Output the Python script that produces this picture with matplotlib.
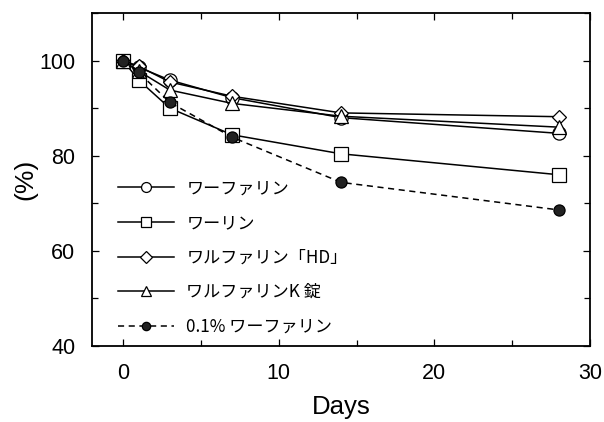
import matplotlib
matplotlib.use("Agg")
import matplotlib.pyplot as plt
from matplotlib.ticker import MultipleLocator

days = [0, 1, 3, 7, 14, 28]
names = ["ワーファリン", "ワーリン", "ワルファリン「HD」", "ワルファリンK 錠", "0.1% ワーファリン"]
warfarin = [100, 98.6, 95.9, 92.2, 88.0, 84.7]
warin = [100, 95.9, 90.0, 84.4, 80.4, 76.0]
warfarin_hd = [100, 98.8, 95.5, 92.5, 89.0, 88.2]
warfarin_k = [100, 97.8, 93.8, 91.0, 88.3, 86.0]
warfarin_01 = [100, 97.5, 91.2, 83.9, 74.4, 68.6]

plt.rcParams['font.family'] = ['Liberation Sans', 'DejaVu Sans']

fig = plt.figure(figsize=(6.04, 4.22), dpi=100)
ax = fig.add_axes([92/604, (422-346)/422, 498/604, 333/422])

lw = 1.1
ms = 9.5
ax.plot(days, warfarin, '-', color='black', lw=lw, marker='o', ms=ms, mfc='white', mec='black', mew=0.9, label=names[0], zorder=3)
ax.plot(days, warin, '-', color='black', lw=lw, marker='s', ms=ms, mfc='white', mec='black', mew=0.9, label=names[1], zorder=3)
ax.plot(days, warfarin_hd, '-', color='black', lw=lw, marker='D', ms=ms*0.8, mfc='white', mec='black', mew=0.9, label=names[2], zorder=3)
ax.plot(days, warfarin_k, '-', color='black', lw=lw, marker='^', ms=ms, mfc='white', mec='black', mew=0.9, label=names[3], zorder=3)
ax.plot(days, warfarin_01, '--', color='black', lw=lw, marker='o', ms=8, mfc='#222222', mec='black', mew=0.9, label=names[4], zorder=4, dashes=(4, 3))

ax.set_xlim(-2, 30)
ax.set_ylim(40, 110)
ax.xaxis.set_major_locator(MultipleLocator(10))
ax.xaxis.set_minor_locator(MultipleLocator(5))
ax.yaxis.set_major_locator(MultipleLocator(20))
ax.yaxis.set_minor_locator(MultipleLocator(10))
ax.tick_params(which='both', direction='in', top=True, right=True, labelsize=15.5, width=0.9)
ax.tick_params(which='major', length=5, pad=12)
ax.tick_params(which='minor', length=4)
ax.set_yticks([40, 60, 80, 100])
for s in ax.spines.values():
    s.set_linewidth(1.3)

ax.set_xlabel("Days", fontsize=18.5, labelpad=8)
ax.set_ylabel("(%)", fontsize=19, labelpad=1)

leg = ax.legend(loc='lower left', bbox_to_anchor=(0.025, -0.01), frameon=False,
                prop={'family': ['Noto Sans CJK JP', 'DejaVu Sans'], 'size': 12.3},
                handlelength=3.3, handletextpad=0.7, labelspacing=0.97, borderpad=0.3,
                markerscale=0.75)

fig.savefig("out.png", dpi=100)
